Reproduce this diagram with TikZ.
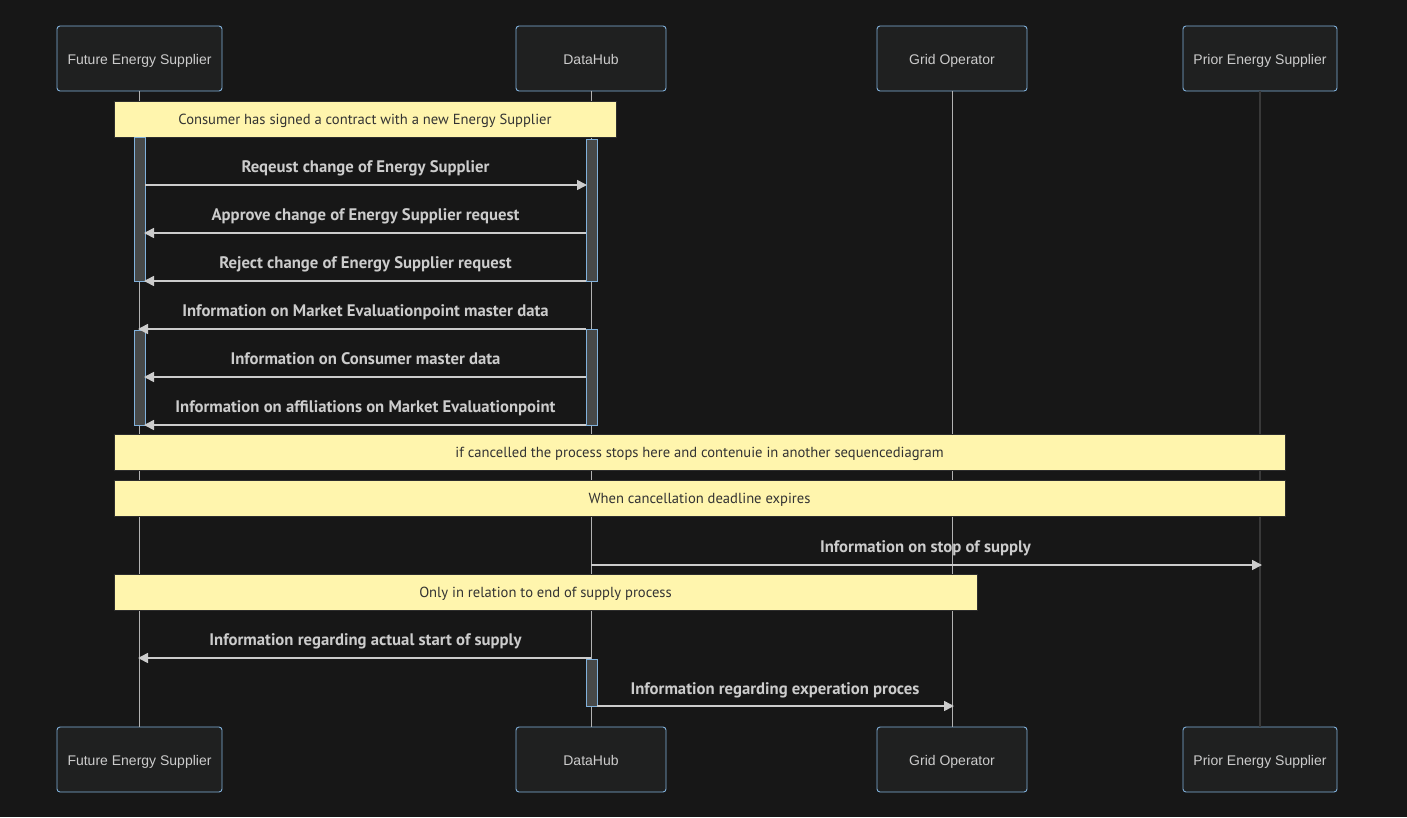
\documentclass[tikz,border=0pt]{standalone}
\usepackage{fontspec}
\setmainfont{Liberation Sans}
\newfontfamily\msgfont{PT Sans}
\usetikzlibrary{arrows.meta}

\definecolor{bgdark}{RGB}{23,23,23}
\definecolor{actorfill}{RGB}{31,32,32}
\definecolor{actorline}{RGB}{129,177,219}
\definecolor{notefill}{RGB}{255,245,173}
\definecolor{noteline}{RGB}{45,45,45}
\definecolor{notetext}{RGB}{51,51,51}
\definecolor{signal}{RGB}{204,204,204}
\definecolor{acttone}{RGB}{71,73,73}

\begin{document}
\begin{tikzpicture}[x=1pt, y=-1pt,
    actor/.style={draw=actorline, fill=actorfill, rounded corners=3pt, line width=0.9pt,
        minimum height=65pt, text=signal, font=\fontsize{14}{16}\selectfont, inner sep=0pt,
        text height=12pt, text depth=0pt},
    note/.style={draw=noteline, fill=notefill, line width=0.9pt, minimum height=36pt,
        text=notetext, font=\msgfont\fontsize{14.6}{16}\selectfont, inner sep=0pt,
        text height=10pt, text depth=0pt},
    msglabel/.style={anchor=base, text=signal, font=\msgfont\bfseries\fontsize{16.7}{18}\selectfont, inner sep=0pt},
    lifeline/.style={draw=gray!60, line width=0.8pt},
    activation/.style={draw=actorline, fill=acttone, line width=0.8pt},
    msg/.style={draw=signal, line width=1.6pt, -{Triangle[length=10pt,width=10pt]}}]

    % Background and page size
    \useasboundingbox[fill=bgdark] (0,0) rectangle (1407,817);

    % Participants, top row
    \node[actor, minimum width=165pt] (fesT) at (139.5,58.5) {Future Energy Supplier};
    \node[actor, minimum width=150pt] (dhT) at (591,58.5) {DataHub};
    \node[actor, minimum width=150pt] (goT) at (952,58.5) {Grid Operator};
    \node[actor, minimum width=154pt] (pesT) at (1260,58.5) {Prior Energy Supplier};

    % Participants, bottom row
    \node[actor, minimum width=165pt] (fesB) at (139.5,759.5) {Future Energy Supplier};
    \node[actor, minimum width=150pt] (dhB) at (591,759.5) {DataHub};
    \node[actor, minimum width=150pt] (goB) at (952,759.5) {Grid Operator};
    \node[actor, minimum width=154pt] (pesB) at (1260,759.5) {Prior Energy Supplier};

    % Lifelines
    \draw[lifeline] (fesT) -- (fesB);
    \draw[lifeline] (dhT) -- (dhB);
    \draw[lifeline] (goT) -- (goB);
    \draw[lifeline, draw=gray!45!black, line width=2.2pt] (pesT) -- (pesB);

    % Notes
    \node[note, minimum width=502pt] (noteSigned) at (365,119) {Consumer has signed a contract with a new Energy Supplier};
    \node[note, minimum width=1171pt] (noteCancel) at (699.5,452.5) {if cancelled the process stops here and contenuie in another sequencediagram};
    \node[note, minimum width=1171pt] (noteDeadline) at (699.5,498.5) {When cancellation deadline expires};
    \node[note, minimum width=863pt] (noteEnd) at (545.5,592.5) {Only in relation to end of supply process};

    % Activation bars
    \draw[activation] (134,137) rectangle (145,281);
    \draw[activation] (586,139) rectangle (597,281);
    \draw[activation] (134,330) rectangle (145,425);
    \draw[activation] (586,329) rectangle (597,425);
    \draw[activation] (586,659) rectangle (597,706);

    % Message end points
    \coordinate (m1a) at (145,185);  \coordinate (m1b) at (587,185);
    \coordinate (m2a) at (586,233);  \coordinate (m2b) at (144,233);
    \coordinate (m3a) at (586,281);  \coordinate (m3b) at (144,281);
    \coordinate (m4a) at (586,329);  \coordinate (m4b) at (138,329);
    \coordinate (m5a) at (586,377);  \coordinate (m5b) at (144,377);
    \coordinate (m6a) at (586,425);  \coordinate (m6b) at (144,425);
    \coordinate (m7a) at (591,565);  \coordinate (m7b) at (1262,565);
    \coordinate (m8a) at (591,658);  \coordinate (m8b) at (138,658);
    \coordinate (m9a) at (597,706);  \coordinate (m9b) at (954,706);

    % Messages
    \draw[msg] (m1a) -- (m1b);
    \draw[msg] (m2a) -- (m2b);
    \draw[msg] (m3a) -- (m3b);
    \draw[msg] (m4a) -- (m4b);
    \draw[msg] (m5a) -- (m5b);
    \draw[msg] (m6a) -- (m6b);
    \draw[msg] (m7a) -- (m7b);
    \draw[msg] (m8a) -- (m8b);
    \draw[msg] (m9a) -- (m9b);

    % Message labels
    \node[msglabel] (l1) at (365.5,172.5) {Reqeust change of Energy Supplier};
    \node[msglabel] (l2) at (365.5,220.5) {Approve change of Energy Supplier request};
    \node[msglabel] (l3) at (365.5,268.5) {Reject change of Energy Supplier request};
    \node[msglabel] (l4) at (365.5,316.5) {Information on Market Evaluationpoint master data};
    \node[msglabel] (l5) at (365.5,364.5) {Information on Consumer master data};
    \node[msglabel] (l6) at (365.5,412.5) {Information on affiliations on Market Evaluationpoint};
    \node[msglabel] (l7) at (925.5,552.5) {Information on stop of supply};
    \node[msglabel] (l8) at (365.5,645.5) {Information regarding actual start of supply};
    \node[msglabel] (l9) at (775,694.5) {Information regarding experation proces};

\end{tikzpicture}
\end{document}
